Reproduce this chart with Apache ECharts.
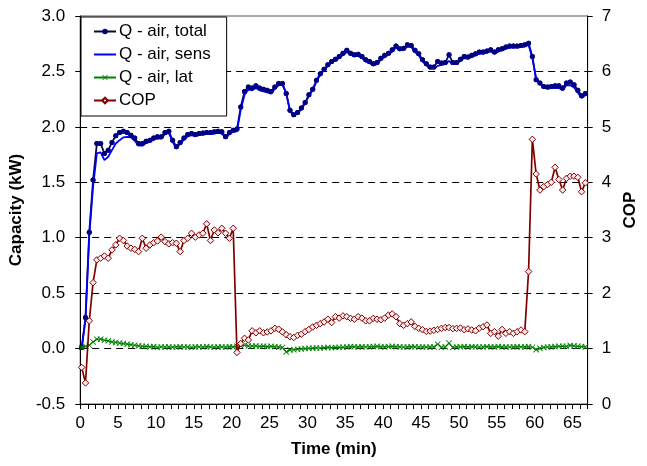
<!DOCTYPE html>
<html>
<head>
<meta charset="utf-8">
<script src="https://cdn.jsdelivr.net/npm/echarts@6/dist/echarts.min.js"></script>
<style>
  html, body { margin: 0; padding: 0; background: #fff; }
  #chart { width: 647px; height: 466px; }
</style>
</head>
<body>
<div id="chart"></div>
<script>
// Logged every 30 s, first sample at 0.2 min
const FIRST_SAMPLE_MIN = 0.2;
const SAMPLE_STEP_MIN = 0.5;

// Total air-side capacity (kW)
const qTotal = [
  0.01,0.28,1.05,1.52,1.85,1.85,1.76,1.79,1.86,1.92,
  1.95,1.96,1.95,1.925,1.90,1.85,1.85,1.87,1.88,1.90,
  1.91,1.91,1.95,1.96,1.88,1.82,1.86,1.90,1.93,1.94,
  1.93,1.94,1.945,1.95,1.95,1.955,1.96,1.955,1.91,1.95,
  1.97,1.98,2.18,2.32,2.36,2.35,2.37,2.35,2.34,2.33,
  2.32,2.36,2.39,2.39,2.30,2.15,2.11,2.13,2.17,2.22,
  2.29,2.34,2.42,2.48,2.52,2.56,2.59,2.61,2.635,2.665,
  2.69,2.665,2.65,2.655,2.635,2.605,2.59,2.57,2.58,2.62,
  2.645,2.665,2.695,2.73,2.705,2.71,2.74,2.735,2.69,2.66,
  2.605,2.57,2.54,2.54,2.59,2.575,2.58,2.65,2.58,2.58,
  2.61,2.635,2.63,2.645,2.66,2.675,2.675,2.685,2.695,2.675,
  2.695,2.705,2.72,2.73,2.73,2.73,2.735,2.74,2.755,2.635,
  2.425,2.395,2.365,2.36,2.365,2.37,2.37,2.35,2.395,2.405,
  2.38,2.33,2.28,2.30
];

// Sensible air-side capacity (kW)
const qSens = [
  0.00,0.26,1.02,1.46,1.76,1.77,1.70,1.73,1.79,1.85,
  1.88,1.905,1.91,1.905,1.875,1.83,1.83,1.855,1.865,1.885,
  1.895,1.895,1.935,1.945,1.865,1.805,1.845,1.885,1.915,1.925,
  1.915,1.925,1.93,1.935,1.935,1.94,1.945,1.94,1.895,1.935,
  1.955,1.96,2.155,2.29,2.335,2.33,2.35,2.33,2.32,2.31,
  2.30,2.345,2.375,2.38,2.31,2.14,2.10,2.12,2.16,2.21,
  2.28,2.33,2.41,2.47,2.51,2.55,2.58,2.60,2.62,2.65,
  2.675,2.65,2.635,2.64,2.62,2.59,2.575,2.555,2.565,2.605,
  2.63,2.65,2.68,2.715,2.69,2.695,2.725,2.72,2.675,2.645,
  2.59,2.555,2.525,2.525,2.55,2.56,2.565,2.595,2.565,2.565,
  2.595,2.62,2.615,2.63,2.645,2.66,2.66,2.67,2.68,2.66,
  2.68,2.69,2.705,2.715,2.715,2.715,2.72,2.725,2.74,2.62,
  2.435,2.39,2.355,2.345,2.35,2.35,2.35,2.33,2.375,2.375,
  2.355,2.31,2.26,2.285
];

// Latent air-side capacity (kW)
const qLat = [
  0.01,0.02,0.03,0.06,0.085,0.085,0.075,0.07,0.06,0.055,
  0.05,0.045,0.04,0.035,0.03,0.025,0.02,0.02,0.015,0.018,
  0.012,0.015,0.014,0.016,0.013,0.015,0.017,0.014,0.015,0.012,
  0.016,0.015,0.014,0.018,0.015,0.013,0.016,0.015,0.014,0.017,
  0.015,0.02,0.025,0.03,0.025,0.022,0.024,0.02,0.022,0.018,
  0.02,0.017,0.015,0.01,-0.03,-0.012,-0.01,-0.006,-0.004,0.0,
  0.002,0.004,0.006,0.005,0.008,0.01,0.008,0.01,0.012,0.011,
  0.015,0.018,0.016,0.015,0.017,0.014,0.016,0.018,0.02,0.017,
  0.015,0.018,0.02,0.017,0.016,0.014,0.015,0.017,0.016,0.014,
  0.015,0.013,0.015,0.015,0.04,0.012,0.015,0.05,0.01,0.015,
  0.016,0.018,0.015,0.017,0.016,0.014,0.015,0.017,0.016,0.015,
  0.018,0.016,0.015,0.014,0.016,0.017,0.015,0.016,0.018,0.012,
  -0.01,0.002,0.01,0.014,0.016,0.018,0.02,0.022,0.02,0.028,
  0.025,0.02,0.018,0.015
];

// Coefficient of performance (right axis)
const cop = [
  0.66,0.38,1.50,2.19,2.60,2.63,2.67,2.63,2.78,2.87,
  2.99,2.95,2.85,2.81,2.79,2.75,2.99,2.81,2.87,2.91,
  2.94,3.01,2.93,2.89,2.91,2.90,2.75,2.95,2.99,3.08,
  3.01,3.05,3.08,3.25,2.95,3.14,3.09,3.17,3.08,2.99,
  3.17,0.93,1.09,1.185,1.155,1.32,1.285,1.32,1.285,1.30,
  1.32,1.365,1.35,1.30,1.25,1.215,1.20,1.24,1.26,1.305,
  1.345,1.39,1.42,1.45,1.48,1.53,1.47,1.575,1.55,1.59,
  1.575,1.545,1.53,1.575,1.55,1.50,1.50,1.545,1.53,1.52,
  1.55,1.605,1.625,1.575,1.45,1.42,1.45,1.48,1.40,1.365,
  1.34,1.31,1.315,1.33,1.345,1.365,1.38,1.38,1.36,1.365,
  1.37,1.34,1.355,1.335,1.32,1.37,1.395,1.425,1.275,1.305,
  1.225,1.345,1.275,1.305,1.275,1.305,1.335,1.305,2.39,4.775,
  4.15,3.86,3.92,3.96,4.0,4.27,4.05,3.86,4.07,4.11,
  4.11,4.09,3.83,3.99
];

const seriesNames = ['Q - air, total', 'Q - air, sens', 'Q - air, lat', 'COP'];
const leftTicks = { min: -0.5, max: 3.0, step: 0.5 };
const rightTicks = { min: 0, max: 7, step: 1 };
const timeAxis = { min: 0, max: 67, step: 1, labelEvery: 5 };

const timeMin = qTotal.map((_, i) => FIRST_SAMPLE_MIN + i * SAMPLE_STEP_MIN);
const pairs = arr => arr.map((v, i) => [timeMin[i], v]);

const FONT = "'Liberation Sans', Arial, sans-serif";
const crossPath = 'path://M0,1L1,0L5,4L9,0L10,1L6,5L10,9L9,10L5,6L1,10L0,9L4,5Z';

const chart = echarts.init(document.getElementById('chart'), null, { renderer: 'canvas' });

chart.setOption({
  animation: false,
  backgroundColor: '#ffffff',
  textStyle: { fontFamily: FONT, color: '#000' },
  grid: {
    left: 77, right: 57, top: 16, bottom: 62,
    show: true, borderColor: '#555', borderWidth: 1, backgroundColor: 'transparent'
  },
  legend: {
    data: [
      seriesNames[0],
      // the sensible series has no markers: show only its line
      { name: seriesNames[1], itemStyle: { opacity: 0 } },
      seriesNames[2],
      seriesNames[3]
    ],
    orient: 'vertical',
    left: 81, top: 17,
    backgroundColor: '#fff',
    borderColor: '#000', borderWidth: 1, borderRadius: 0,
    padding: [6, 16, 7, 12],
    itemGap: 6,
    itemWidth: 22, itemHeight: 7,
    textStyle: { fontSize: 17, fontFamily: FONT, color: '#000', padding: [0, 0, 0, -2] },
    z: 20
  },
  xAxis: {
    type: 'value',
    min: timeAxis.min, max: timeAxis.max, interval: timeAxis.step,
    name: 'Time (min)', nameLocation: 'middle', nameGap: 37,
    nameTextStyle: { fontSize: 17, fontWeight: 'bold', fontFamily: FONT, color: '#000' },
    axisLine: { onZero: false, lineStyle: { color: '#000', width: 1 } },
    axisTick: { show: true, inside: false, length: 5, lineStyle: { color: '#000' } },
    axisLabel: {
      fontSize: 17, color: '#000', fontFamily: FONT, margin: 11,
      formatter: v => (v % timeAxis.labelEvery === 0 ? String(v) : '')
    },
    splitLine: { show: false }
  },
  yAxis: [
    {
      type: 'value', position: 'left',
      min: leftTicks.min, max: leftTicks.max, interval: leftTicks.step,
      name: 'Capacity (kW)', nameLocation: 'middle', nameGap: 44, nameRotate: 90,
      nameTextStyle: { fontSize: 17, fontWeight: 'bold', fontFamily: FONT, color: '#000' },
      axisLine: { show: true, onZero: false, lineStyle: { color: '#000', width: 1 } },
      axisTick: { show: true, inside: false, length: 5, lineStyle: { color: '#000' } },
      axisLabel: { fontSize: 17, color: '#000', fontFamily: FONT, margin: 15, formatter: v => v.toFixed(1) },
      splitLine: {
        show: true, showMinLine: false, showMaxLine: false,
        lineStyle: { color: '#000', width: 1, type: [7, 5] }
      }
    },
    {
      type: 'value', position: 'right',
      min: rightTicks.min, max: rightTicks.max, interval: rightTicks.step,
      name: 'COP', nameLocation: 'middle', nameGap: 31, nameRotate: 90,
      nameTextStyle: { fontSize: 17, fontWeight: 'bold', fontFamily: FONT, color: '#000' },
      axisLine: { show: true, onZero: false, lineStyle: { color: '#000', width: 1 } },
      axisTick: { show: true, inside: false, length: 5, lineStyle: { color: '#000' } },
      axisLabel: { fontSize: 17, color: '#000', fontFamily: FONT, margin: 14 },
      splitLine: { show: false }
    }
  ],
  series: [
    {
      name: seriesNames[0], type: 'line', yAxisIndex: 0, z: 2,
      data: pairs(qTotal),
      symbol: 'circle', symbolSize: 5, showAllSymbol: true,
      lineStyle: { color: '#0a0a3a', width: 1.8 },
      itemStyle: { color: '#000080' }
    },
    {
      name: seriesNames[1], type: 'line', yAxisIndex: 0, z: 3,
      data: pairs(qSens),
      symbol: 'none',
      lineStyle: { color: '#0000ff', width: 1.8 },
      itemStyle: { color: '#0000ff' }
    },
    {
      // markers of the total series, kept above the sensible line
      name: seriesNames[0], type: 'line', yAxisIndex: 0, z: 4,
      data: pairs(qTotal),
      symbol: 'circle', symbolSize: 5, showAllSymbol: true,
      lineStyle: { width: 0, opacity: 0 },
      itemStyle: { color: '#000080' }
    },
    {
      name: seriesNames[2], type: 'line', yAxisIndex: 0, z: 5,
      data: pairs(qLat),
      symbol: crossPath, symbolSize: 6, showAllSymbol: true,
      lineStyle: { color: '#008000', width: 1.2 },
      itemStyle: { color: '#008000' }
    },
    {
      name: seriesNames[3], type: 'line', yAxisIndex: 1, z: 6,
      data: pairs(cop),
      symbol: 'diamond', symbolSize: 6.5, showAllSymbol: true,
      lineStyle: { color: '#800000', width: 1.7 },
      itemStyle: { color: '#fbe8e8', borderColor: '#800000', borderWidth: 1 }
    }
  ]
});
</script>
</body>
</html>
